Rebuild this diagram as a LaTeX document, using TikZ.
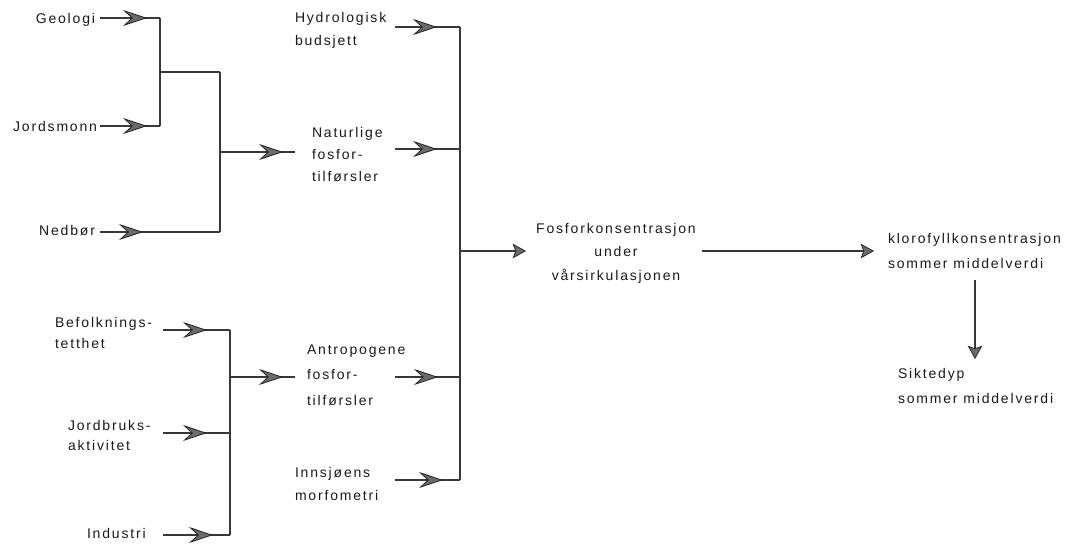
\documentclass[tikz,border=0pt]{standalone}
\usepackage{fontspec}
\usetikzlibrary{arrows.meta}
\newfontfamily\lblfam[LetterSpace=13]{Liberation Sans}
\tikzset{
  lbl/.style={inner sep=0pt, outer sep=0pt, align=left, text=black!90, font=\lblfam\fontsize{10.5}{#1}\selectfont},
  lbl/.default=15.75,
  conn/.style={draw=black!78, line width=1.3pt},
  barbtip/.style={conn, -{Stealth[length=18pt,width=12pt,inset=6.5pt,fill=black!58,color=black!85,line width=0.6pt]}},
  endtip/.style={conn, -{Stealth[length=10pt,width=11pt,inset=2pt,fill=black!58,color=black!85,line width=0.6pt]}}
}
% feed line from #1 to #2 with a barbed head whose tip lies #3 px after #1
\newcommand\feedline[3]{\draw[conn] (#1) -- (#2); \draw[barbtip] (#1) -- ++(#3,0);}
\begin{document}
\begin{tikzpicture}[x=0.75pt,y=-0.75pt]
\useasboundingbox (0,0) rectangle (1078,546);
% ---- labels ----
\node[lbl, anchor=north east] (geo) at (95,13) {Geologi};
\node[lbl, anchor=north east] (jor) at (97,121) {Jordsmonn};
\node[lbl, anchor=north east] (ned) at (95,225) {Nedbør};
\node[lbl=15.75, anchor=north west] (bef) at (55,317) {Befolknings-\\tetthet};
\node[lbl=15, anchor=north west] (jbr) at (68,420) {Jordbruks-\\aktivitet};
\node[lbl, anchor=north west] (ind) at (87,528) {Industri};
\node[lbl=17.25, anchor=north west] (hyd) at (295,12) {Hydrologisk\\budsjett};
\node[lbl=16.5, anchor=north west] (nat) at (312,127) {Naturlige\\fosfor-\\tilførsler};
\node[lbl=19, anchor=north west] (ant) at (307,345) {Antropogene\\fosfor-\\tilførsler};
\node[lbl=17.25, anchor=north west] (inn) at (295,467) {Innsjøens\\morfometri};
\node[lbl=17.6, anchor=north, align=center] (fos) at (616,223) {Fosforkonsentrasjon\\under\\vårsirkulasjonen};
\node[lbl=18.75, anchor=north west] (klo) at (888,233) {klorofyllkonsentrasjon\\sommer middelverdi};
\node[lbl=18.75, anchor=north west] (sik) at (898,368) {Siktedyp\\sommer middelverdi};
% ---- coordinates ----
\coordinate (geoA) at (100,18);  \coordinate (j1t) at (160,18);
\coordinate (jorA) at (100,126); \coordinate (j1b) at (160,126);
\coordinate (j1m) at (160,72);   \coordinate (j2t) at (220,72);
\coordinate (nedA) at (100,232); \coordinate (j2b) at (220,232);
\coordinate (j2m) at (220,152);  \coordinate (natIn) at (295,152);
\coordinate (befA) at (163,330); \coordinate (j3t) at (230,330);
\coordinate (jbrA) at (163,433); \coordinate (j3c) at (230,433);
\coordinate (indA) at (163,535); \coordinate (j3b) at (230,535);
\coordinate (j3m) at (230,377);  \coordinate (antIn) at (295,377);
\coordinate (hydA) at (395,27);  \coordinate (j4t) at (460,27);
\coordinate (natA) at (395,149); \coordinate (j4n) at (460,149);
\coordinate (antA) at (395,377); \coordinate (j4a) at (460,377);
\coordinate (innA) at (395,480); \coordinate (j4b) at (460,480);
\coordinate (j4m) at (460,251);  \coordinate (fosIn) at (526,251);
\coordinate (fosA) at (702,251); \coordinate (kloIn) at (874,251);
\coordinate (kloA) at (975,280); \coordinate (sikIn) at (975,359);
% ---- group 1 ----
\feedline{geoA}{j1t}{47}
\feedline{jorA}{j1b}{47}
\draw[conn] (j1t) -- (j1b);
\draw[conn] (j1m) -- (j2t);
\feedline{nedA}{j2b}{43}
\draw[conn] (j2t) -- (j2b);
\feedline{j2m}{natIn}{63}
% ---- group 2 ----
\feedline{befA}{j3t}{44}
\feedline{jbrA}{j3c}{44}
\feedline{indA}{j3b}{50}
\draw[conn] (j3t) -- (j3b);
\feedline{j3m}{antIn}{53}
% ---- group 3 ----
\feedline{hydA}{j4t}{42}
\feedline{natA}{j4n}{42}
\feedline{antA}{j4a}{43}
\feedline{innA}{j4b}{48}
\draw[conn] (j4t) -- (j4b);
\draw[endtip] (j4m) -- (fosIn);
% ---- right ----
\draw[endtip] (fosA) -- (kloIn);
\draw[endtip] (kloA) -- (sikIn);
\end{tikzpicture}
\end{document}
